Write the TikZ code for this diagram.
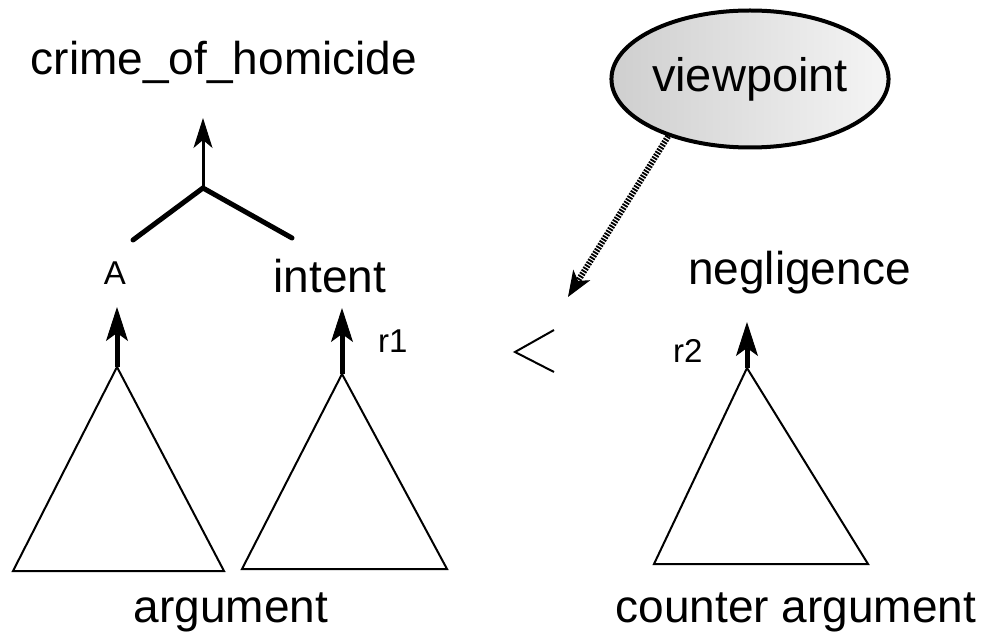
\documentclass[tikz,border=0pt]{standalone}
\usepackage{fontspec}
\setsansfont{Liberation Sans}
\usetikzlibrary{shapes.geometric,arrows.meta,positioning,calc}

\begin{document}
\begin{tikzpicture}[
    x=1pt, y=-1pt,
    >=Stealth,
    font=\sffamily,
    % the propositions: big plain labels sitting on their baseline
    term/.style={font=\sffamily\fontsize{46}{52}\selectfont, inner sep=0pt, anchor=base},
    tag/.style={font=\sffamily\fontsize{33}{38}\selectfont, inner sep=0pt, anchor=base west},
    % argument trees are just thin outlined triangles
    tree/.style={draw, line width=2pt, line join=miter},
    support/.style={line width=5pt, -{Stealth[length=34pt, width=22pt, inset=8pt, line width=1pt]}},
    link/.style={line width=3pt, -{Stealth[length=30pt, width=19pt, inset=8pt, line width=1pt]}},
    conj/.style={line width=5pt, line cap=round},
    view/.style={ellipse, draw, line width=4pt, left color=gray!38, right color=gray!8,
                 minimum width=256pt, minimum height=137pt, inner sep=0pt,
                 font=\sffamily\fontsize{47}{52}\selectfont},
    prefer/.style={line width=6pt, dash pattern=on 1.8pt off 1.3pt,
                   -{Stealth[length=26pt, width=20pt, inset=7pt, line width=1pt]}},
]
\useasboundingbox (0,0) rectangle (986,644);

%================= the conclusion and its conjunction =================%
\node[term] (crime) at (224,75) {crime\_of\_homicide};
\coordinate (join) at (203,188);
\coordinate (armA) at (133,240);
\coordinate (armI) at (292,238);
\coordinate (tipC) at (203,118);
\draw[conj] (armA) -- (join) -- (armI);
\draw[link] (join) -- (tipC);

%================= argument : two subtrees =================%
\node[tag, anchor=base] (lblA) at (115,285) {A};
\node[term] (lblI)  at (330,293) {intent};
\node[tag]  (r1)    at (378,353) {r1};
\coordinate (apexA) at (117,367);
\coordinate (apexI) at (342,374);
\coordinate (tipA)  at (117,307);
\coordinate (tipI)  at (342,308);
\draw[tree] (apexA) -- ++(-104,204) -- ++(211,0) -- cycle;
\draw[tree] (apexI) -- ++(-100,195) -- ++(205,0) -- cycle;
\draw[support] (apexA) -- (tipA);
\draw[support] (apexI) -- (tipI);
\node[term] (arg) at (231,622) {argument};

%================= counter argument =================%
\node[term, anchor=base west] (lblN) at (688,285) {negligence};
\node[tag]  (r2)    at (673,363) {r2};
\coordinate (apexN) at (747,368);
\coordinate (tipN)  at (747,322);
\draw[tree] (apexN) -- ++(-93,196) -- ++(214,0) -- cycle;
\draw[support] (apexN) -- (tipN);
\node[term] (carg) at (796,622) {counter argument};

%================= preference, decided by the viewpoint =================%
\draw[tree] (554,330) -- (515,352) -- (554,372);
\node[view] (vp) at (750,79) {viewpoint};
\coordinate (vpTip) at (568,297);
\draw[prefer] (vp.215) -- (vpTip);

\end{tikzpicture}
\end{document}
